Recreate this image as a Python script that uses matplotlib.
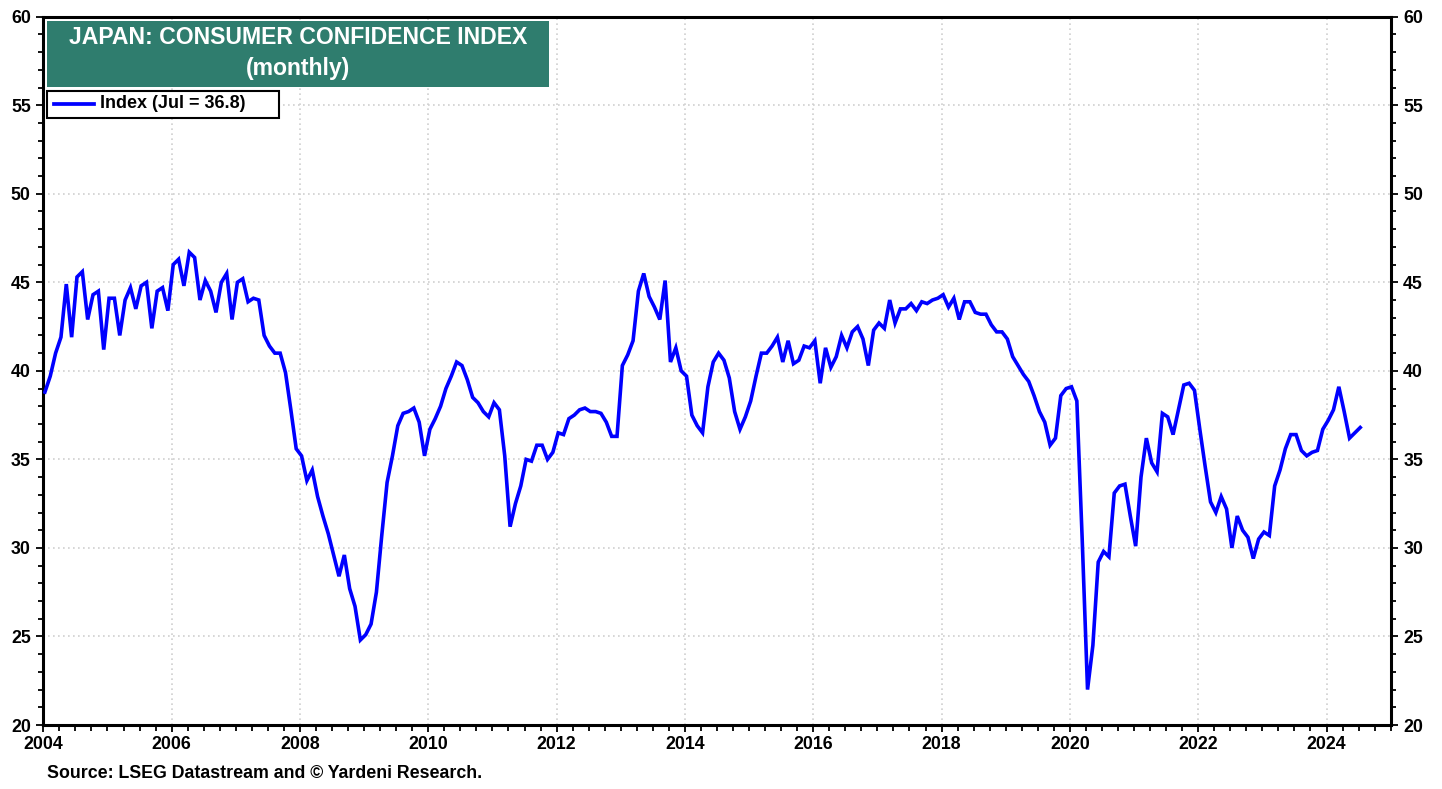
import numpy as np
import matplotlib
matplotlib.use("Agg")
import matplotlib.pyplot as plt
from matplotlib.patches import Rectangle
from matplotlib.lines import Line2D
from matplotlib.ticker import MultipleLocator

plt.rcParams['font.family'] = ['Liberation Sans', 'DejaVu Sans']
plt.rcParams['font.weight'] = 'bold'

start_year = 2004
index_values = [
    # 2004
    38.8, 39.7, 41.0, 41.9, 44.9, 41.9, 45.3, 45.6, 42.9, 44.3, 44.5, 41.2,
    # 2005
    44.1, 44.1, 42.0, 44.0, 44.7, 43.5, 44.8, 45.0, 42.4, 44.5, 44.7, 43.4,
    # 2006
    46.0, 46.3, 44.8, 46.7, 46.4, 44.0, 45.1, 44.5, 43.3, 45.0, 45.5, 42.9,
    # 2007
    45.0, 45.2, 43.9, 44.1, 44.0, 42.0, 41.4, 41.0, 41.0, 39.9, 37.8, 35.6,
    # 2008
    35.2, 33.8, 34.4, 32.9, 31.8, 30.8, 29.6, 28.4, 29.6, 27.7, 26.7, 24.8,
    # 2009
    25.1, 25.7, 27.5, 30.7, 33.7, 35.2, 36.9, 37.6, 37.7, 37.9, 37.1, 35.2,
    # 2010
    36.7, 37.3, 38.0, 39.0, 39.7, 40.5, 40.3, 39.5, 38.5, 38.2, 37.7, 37.4,
    # 2011
    38.2, 37.8, 35.2, 31.2, 32.5, 33.5, 35.0, 34.9, 35.8, 35.8, 35.0, 35.4,
    # 2012
    36.5, 36.4, 37.3, 37.5, 37.8, 37.9, 37.7, 37.7, 37.6, 37.1, 36.3, 36.3,
    # 2013
    40.3, 40.9, 41.7, 44.5, 45.5, 44.2, 43.6, 42.9, 45.1, 40.5, 41.3, 40.0,
    # 2014
    39.7, 37.5, 36.9, 36.5, 39.1, 40.5, 41.0, 40.6, 39.6, 37.7, 36.7, 37.4,
    # 2015
    38.3, 39.7, 41.0, 41.0, 41.4, 41.9, 40.5, 41.7, 40.4, 40.6, 41.4, 41.3,
    # 2016
    41.7, 39.3, 41.3, 40.2, 40.8, 42.0, 41.3, 42.2, 42.5, 41.8, 40.3, 42.3,
    # 2017
    42.7, 42.4, 44.0, 42.7, 43.5, 43.5, 43.8, 43.4, 43.9, 43.8, 44.0, 44.1,
    # 2018
    44.3, 43.6, 44.1, 42.9, 43.9, 43.9, 43.3, 43.2, 43.2, 42.6, 42.2, 42.2,
    # 2019
    41.8, 40.8, 40.3, 39.8, 39.4, 38.6, 37.7, 37.1, 35.8, 36.2, 38.6, 39.0,
    # 2020
    39.1, 38.3, 30.5, 22.0, 24.5, 29.2, 29.8, 29.5, 33.1, 33.5, 33.6, 31.8,
    # 2021
    30.1, 34.0, 36.2, 34.8, 34.3, 37.6, 37.4, 36.4, 37.8, 39.2, 39.3, 38.9,
    # 2022
    36.7, 34.6, 32.6, 32.0, 32.9, 32.2, 30.0, 31.8, 31.0, 30.6, 29.4, 30.5,
    # 2023
    30.9, 30.7, 33.5, 34.4, 35.6, 36.4, 36.4, 35.5, 35.2, 35.4, 35.5, 36.7,
    # 2024
    37.2, 37.8, 39.1, 37.7, 36.2, 36.5, 36.8,
]
x_major_ticks = list(range(2004, 2025, 2))
y_ticks = [20, 25, 30, 35, 40, 45, 50, 55, 60]
title_lines = ["JAPAN: CONSUMER CONFIDENCE INDEX", "(monthly)"]
legend_label = "Index (Jul = 36.8)"
source_text = "Source: LSEG Datastream and \u00a9 Yardeni Research."

W, H = 1442, 789
fig = plt.figure(figsize=(W / 100, H / 100), dpi=100)
fig.patch.set_facecolor('white')

left_px, right_px, top_px, bottom_px = 43.3, 1390.7, 16.7, 725.0
ax = fig.add_axes([left_px / W, 1 - bottom_px / H,
                   (right_px - left_px) / W, (bottom_px - top_px) / H])

n = len(index_values)
x = start_year + (np.arange(n) + 0.3) / 12.0
ax.plot(x, index_values, color='#0000FF', lw=2.6, solid_joinstyle='miter', zorder=3)

ax.set_xlim(2004, 2025)
ax.set_ylim(20, 60)
ax.set_xticks(x_major_ticks)
ax.set_xticklabels([str(t) for t in x_major_ticks])
ax.xaxis.set_minor_locator(MultipleLocator(0.25))
ax.set_yticks(y_ticks)
ax.set_yticklabels([str(t) for t in y_ticks])
ax.yaxis.set_minor_locator(MultipleLocator(1))

ax.grid(True, which='major', color='#d0d0d0', linestyle=(0, (1, 2)), lw=1.2, zorder=0)

for s in ax.spines.values():
    s.set_linewidth(2.2)
    s.set_color('black')

ax.tick_params(axis='both', which='both', direction='out', color='black', width=1.3)
ax.tick_params(axis='y', which='major', length=5, labelsize=12.8, pad=4,
               left=True, right=True, labelleft=True, labelright=True)
ax.tick_params(axis='y', which='minor', length=3.5, left=True, right=True)
ax.tick_params(axis='x', which='major', length=5, labelsize=12.8, pad=3)
ax.tick_params(axis='x', which='minor', length=4.5)
for lab in ax.get_xticklabels() + ax.get_yticklabels():
    lab.set_fontweight('bold')

def px_to_fig(xp, yp):
    return xp / W, 1 - yp / H

# Title box
bx0, by0, bx1, by1 = 47, 21, 549, 87
fx, fy = px_to_fig(bx0, by1)
fig.patches.append(Rectangle((fx, fy), (bx1 - bx0) / W, (by1 - by0) / H,
                             transform=fig.transFigure, facecolor='#2F7D6E',
                             edgecolor='none', zorder=5))
cx = (bx0 + bx1) / 2
fig.text(cx / W, 1 - 38 / H, title_lines[0], ha='center', va='center',
         color='white', fontsize=16.6, fontweight='bold', zorder=6)
fig.text(cx / W, 1 - 69 / H, title_lines[1], ha='center', va='center',
         color='white', fontsize=16.6, fontweight='bold', zorder=6)

# Legend box
lx0, ly0, lx1, ly1 = 47, 91, 279, 118
fx, fy = px_to_fig(lx0, ly1)
fig.patches.append(Rectangle((fx, fy), (lx1 - lx0) / W, (ly1 - ly0) / H,
                             transform=fig.transFigure, facecolor='white',
                             edgecolor='black', lw=1.5, zorder=5))
ly = 1 - 103.5 / H
fig.lines.append(Line2D([54 / W, 94 / W], [ly, ly], transform=fig.transFigure,
                        color='#0000FF', lw=2.7, zorder=6))
fig.text(100 / W, ly, legend_label, ha='left', va='center', color='black',
         fontsize=13, fontweight='bold', zorder=6)

# Source
fig.text(47 / W, 1 - 774 / H, source_text, ha='left', va='center',
         color='black', fontsize=12.8, fontweight='bold')

fig.savefig('out.png', dpi=100, facecolor='white')
